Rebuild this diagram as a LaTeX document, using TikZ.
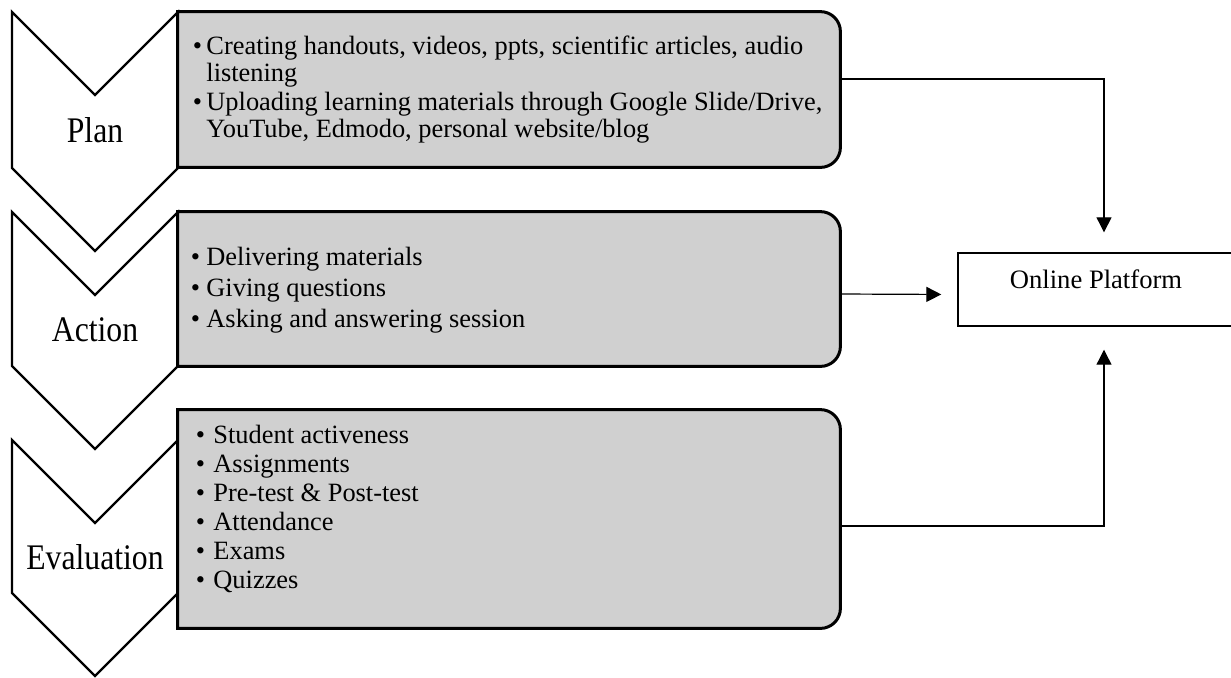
\documentclass[tikz,border=0pt]{standalone}
\usepackage{fontspec}
\setmainfont{Liberation Serif}
\newfontfamily\stagefont[FakeStretch=0.88]{Liberation Serif}
\usetikzlibrary{arrows.meta,positioning,calc}
\definecolor{boxgray}{RGB}{208,208,208}

% outline of a gray box: square on the left, rounded on the right
\newcommand{\roundbox}[1]{%
  \filldraw[boxline] (#1.south west) -- (#1.north west)
    -- ([xshift=-10pt]#1.north east) arc[start angle=90, end angle=0, radius=10pt]
    -- ([yshift=10pt]#1.south east) arc[start angle=0, end angle=-90, radius=10pt]
    -- cycle;}

\begin{document}
\begin{tikzpicture}[x=0.5pt, y=-0.5pt,
    chevron/.style={draw, line width=1.2pt, line join=miter},
    stage/.style={font=\stagefont\fontsize{18}{20}\selectfont, inner sep=0, anchor=base},
    slot/.style={rectangle, minimum width=331pt, inner sep=0},
    boxline/.style={draw=black, fill=boxgray, line width=1.5pt},
    items/.style={font=\fontsize{13.2}{#1}\selectfont, inner sep=0, anchor=base west},
    platform/.style={draw, line width=0.7pt, minimum width=138pt, minimum height=36.5pt,
      inner sep=0, text height=8pt, text depth=9.5pt, font=\fontsize{13.3}{16}\selectfont},
    flow/.style={draw, line width=0.6pt, -{Triangle[length=7.5pt,width=7.5pt]}}]
  \useasboundingbox (0,0) rectangle (1231,677);

  % the three stages
  \foreach \ya/\yb/\yt/\name/\txt in {12/168/142/plan/Plan,
      212/366/341/action/Action, 440/593/569/evaluation/Evaluation}{
    \draw[chevron] (12,\ya) -- (95,\ya+83) -- (178,\ya) -- (178,\yb)
      -- (95,\yb+83) -- (12,\yb) -- cycle;
    \node[stage] (\name) at (95,\yt) {\txt};
  }

  % gray boxes
  \node[slot, minimum height=77.5pt] (planbox) at (509,89.5) {};
  \node[slot, minimum height=77pt] (actionbox) at (509,289) {};
  \node[slot, minimum height=109pt] (evalbox) at (509,519) {};
  \roundbox{planbox}
  \roundbox{actionbox}
  \roundbox{evalbox}

  \node[items=13.5pt] (plantext) at (192.4,54) {%
    \begin{tabular}[t]{@{}l@{\hspace{2.2pt}}l@{}}
      \textbullet & Creating handouts, videos, ppts, scientific articles, audio\\
                  & listening\\[1pt]
      \textbullet & Uploading learning materials through Google Slide/Drive,\\
                  & YouTube, Edmodo, personal website/blog
    \end{tabular}};
  \node[items=15.5pt] (actiontext) at (190.4,265) {%
    \begin{tabular}[t]{@{}l@{\hspace{3.2pt}}l@{}}
      \textbullet & Delivering materials\\
      \textbullet & Giving questions\\
      \textbullet & Asking and answering session
    \end{tabular}};
  \node[items=14.5pt] (evaltext) at (195.4,443) {%
    \begin{tabular}[t]{@{}l@{\hspace{4.2pt}}l@{}}
      \textbullet & Student activeness\\
      \textbullet & Assignments\\
      \textbullet & Pre-test \& Post-test\\
      \textbullet & Attendance\\
      \textbullet & Exams\\
      \textbullet & Quizzes
    \end{tabular}};

  \node[platform] (online) at (1096,289.5) {Online Platform};

  % connectors
  \draw[flow, shorten >=10pt] ([yshift=5.25pt]planbox.east) -| ([xshift=4pt]online.north);
  \draw[flow, shorten >=8pt] ([yshift=-2.5pt]actionbox.east) -- ([yshift=-2.5pt]online.west);
  \draw[flow, shorten >=11.5pt] ([yshift=-3.5pt]evalbox.east) -| ([xshift=4pt]online.south);
\end{tikzpicture}
\end{document}
